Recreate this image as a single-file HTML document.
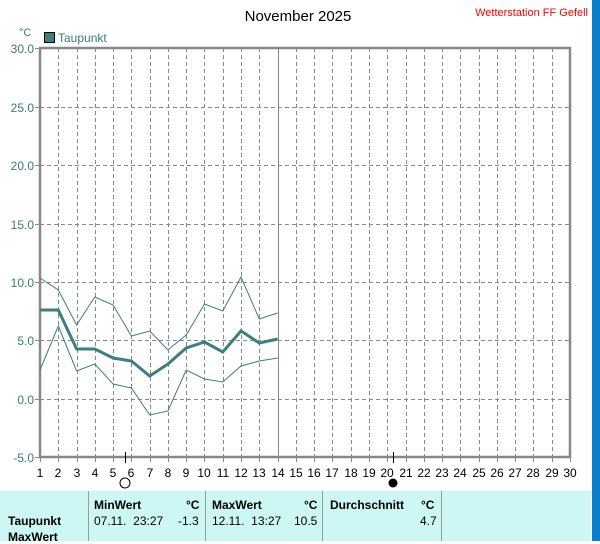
<!DOCTYPE html>
<html><head><style>
body{margin:0;width:600px;height:541px;overflow:hidden;background:#fff;font-family:"Liberation Sans",sans-serif;position:relative}
.t{position:absolute;white-space:nowrap}
</style></head><body>
<svg width="600" height="541" style="position:absolute;left:0;top:0" font-family="Liberation Sans, sans-serif">
<rect x="592" y="0" width="8" height="541" fill="#0a7fd0"/>
<rect x="0" y="491" width="591" height="50" fill="#ccf7f5"/>
<g stroke="#999" stroke-width="1">
<line x1="88.5" y1="491" x2="88.5" y2="541"/><line x1="205.5" y1="491" x2="205.5" y2="541"/><line x1="322.5" y1="491" x2="322.5" y2="541"/><line x1="441.5" y1="491" x2="441.5" y2="541"/>
</g>
<text x="298" y="21" font-size="15" text-anchor="middle" fill="#000">November 2025</text>
<text x="588" y="16" font-size="11" text-anchor="end" fill="#ff0000">Wetterstation FF Gefell</text>
<text x="19" y="36" font-size="11" fill="#3a7a7a">°C</text>
<rect x="44.5" y="32.5" width="10" height="10" fill="#3d7f7f" stroke="#000"/>
<text x="58" y="42" font-size="12" fill="#3a7a7a">Taupunkt</text>
<g stroke="#888" stroke-dasharray="4,3" stroke-width="1" id="grid"></g>
<g id="ax"></g>
</svg>
<script>
var g=document.getElementById('grid'),ax=document.getElementById('ax'),ns='http://www.w3.org/2000/svg';
function el(p,t,a,txt){var e=document.createElementNS(ns,t);for(var k in a)e.setAttribute(k,a[k]);if(txt)e.textContent=txt;p.appendChild(e);return e;}
var ys=[48,107,165,224,282,340,399,457],lab=['30.0','25.0','20.0','15.0','10.0','5.0','0.0','-5.0'];
for(var i=1;i<7;i++)el(g,'line',{x1:40,x2:570,y1:ys[i]+.5,y2:ys[i]+.5});
for(var d=2;d<30;d++){var x=Math.round(40+(d-1)*530/29)+.5;if(d!=14)el(g,'line',{x1:x,x2:x,y1:48,y2:457});}
el(ax,'line',{x1:278.5,x2:278.5,y1:48,y2:457,stroke:'#888'});
for(i=0;i<8;i++){el(ax,'text',{x:34,y:ys[i]+5,'font-size':12,'text-anchor':'end',fill:'#3a7a7a'},lab[i]);el(ax,'line',{x1:35,x2:40,y1:ys[i]+.5,y2:ys[i]+.5,stroke:'#888'});}
for(d=1;d<=30;d++){var x=Math.round(40+(d-1)*530/29);el(ax,'text',{x:x,y:477,'font-size':12,'text-anchor':'middle',fill:'#000'},''+d);el(ax,'line',{x1:x+.5,x2:x+.5,y1:457,y2:462,stroke:'#888'});}
el(ax,'rect',{x:40,y:48,width:530,height:409,fill:'none',stroke:'#888','stroke-width':2.5});
el(ax,'line',{x1:125.5,x2:125.5,y1:452,y2:463,stroke:'#000'});
el(ax,'line',{x1:393.5,x2:393.5,y1:452,y2:463,stroke:'#000'});
el(ax,'circle',{cx:125,cy:483,r:5,fill:'none',stroke:'#000'});
el(ax,'circle',{cx:393,cy:483,r:4.5,fill:'#000'});
var mx=[278,290,325,297,305,336,331,350,335,304,311,277,319,313],
av=[310,310,349,349,358,361,376,364,348,342,352,331,343,339],
mn=[370,326,371,364,384,388,415,411,370,379,382,366,361,358];
function pl(a,w){var p=a.map(function(y,i){return (40+i*530/29).toFixed(1)+','+y}).join(' ');el(ax,'polyline',{points:p,fill:'none',stroke:'#3d7f7f','stroke-width':w});}
pl(mx,1);pl(mn,1);pl(av,3);
</script>
<div class="t" style="left:94px;top:498px;font-size:12px;font-weight:bold">MinWert</div>
<div class="t" style="left:186px;top:498px;font-size:12px;font-weight:bold">°C</div>
<div class="t" style="left:212px;top:498px;font-size:12px;font-weight:bold">MaxWert</div>
<div class="t" style="left:304px;top:498px;font-size:12px;font-weight:bold">°C</div>
<div class="t" style="left:330px;top:498px;font-size:12px;font-weight:bold">Durchschnitt</div>
<div class="t" style="left:421px;top:498px;font-size:12px;font-weight:bold">°C</div>
<div class="t" style="left:8px;top:514px;font-size:12px;font-weight:bold">Taupunkt</div>
<div class="t" style="left:94px;top:514px;font-size:12px">07.11.&nbsp; 23:27</div>
<div class="t" style="left:178px;top:514px;font-size:12px">-1.3</div>
<div class="t" style="left:212px;top:514px;font-size:12px">12.11.&nbsp; 13:27</div>
<div class="t" style="left:294px;top:514px;font-size:12px">10.5</div>
<div class="t" style="left:420px;top:514px;font-size:12px">4.7</div>
<div class="t" style="left:8px;top:530px;font-size:12px;font-weight:bold">MaxWert</div>
</body></html>
